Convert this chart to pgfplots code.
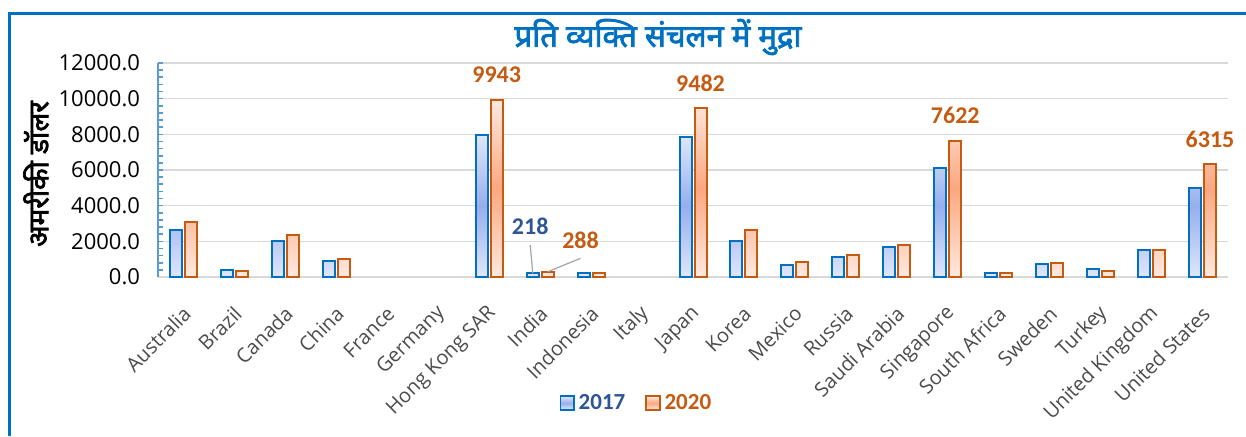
\documentclass[border=0pt]{standalone}
\usepackage{pgfplots}
\pgfplotsset{compat=1.18}
\usepackage{fontspec}
\setmainfont{Open Sans}
\newfontfamily\carlito{Carlito}
\newfontfamily\deva[Script=Devanagari]{Noto Sans}
\newfontfamily\devab[Script=Devanagari, FakeBold=2.5]{Noto Sans}
\definecolor{fblue}{RGB}{0,112,192}
\definecolor{forange}{RGB}{197,90,17}
\definecolor{lblue}{RGB}{47,85,151}
\definecolor{axblue}{RGB}{91,155,213}
\definecolor{gridc}{RGB}{217,217,217}
\definecolor{tickc}{RGB}{75,75,75}
\definecolor{bblight}{RGB}{224,231,250}
\definecolor{bbmid}{RGB}{152,174,236}
\definecolor{oolight}{RGB}{255,233,224}
\definecolor{oomid}{RGB}{250,168,128}
\definecolor{leadc}{RGB}{165,165,165}
\begin{document}
\begin{tikzpicture}[x=0.5pt,y=0.5pt]
\useasboundingbox (0,0) rectangle (1246,436);
\draw[fblue, line width=1.5pt] (9,0) -- (9,423) -- (1246,423);
\node[text=fblue, font=\devab\fontsize{15.5}{17}\selectfont] at (658,399) {प्रति व्यक्ति संचलन में मुद्रा};
\node[rotate=90, font=\devab\fontsize{14}{16}\selectfont] at (36,262) {अमरीकी डॉलर};
\begin{axis}[at={(79pt,79.5pt)}, anchor=south west, scale only axis,
  width=535pt, height=107pt,
  xmin=-0.5, xmax=20.5, ymin=0, ymax=12000,
  ybar=1.5pt, bar width=6pt,
  axis x line*=bottom, axis y line*=left,
  x axis line style={gridc, line width=1.2pt, -},
  y axis line style={axblue, line width=1pt, -},
  xtick={0,...,20},
  xticklabels={Australia,Brazil,Canada,China,France,Germany,Hong Kong SAR,India,Indonesia,Italy,Japan,Korea,Mexico,Russia,Saudi Arabia,Singapore,South Africa,Sweden,Turkey,United Kingdom,United States},
  major x tick style={draw=none},
  ytick={0,2000,...,12000},
  minor y tick num=4,
  tick align=inside,
  y tick style={axblue, line width=0.8pt},
  major tick length=2.5pt, minor tick length=2.5pt,
  ymajorgrids, major grid style={gridc, line width=0.8pt},
  scaled y ticks=false,
  yticklabel style={font=\fontsize{11}{13}\selectfont, text=black, xshift=-5.5pt,
    /pgf/number format/.cd, fixed, fixed zerofill, precision=1, 1000 sep={}, assume math mode=true},
  xticklabel style={rotate=45, anchor=east, font=\fontsize{10}{12}\selectfont, text=tickc, yshift=-13pt, xshift=-7pt},
  legend style={at={(0.448,-0.589)}, anchor=center, draw=none, fill=none,
    legend columns=2, /tikz/every even column/.append style={column sep=8pt},
    font=\carlito\bfseries\fontsize{11.5}{13}\selectfont},
  legend image code/.code={\draw[#1, line width=0.8pt] (0pt,-3.4pt) rectangle (6.8pt,3.4pt);},
  clip=false,
]
\addplot[draw=fblue, line width=1pt, top color=bblight, bottom color=bblight, middle color=bbmid]
 coordinates {(0,2620) (1,390) (2,2040) (3,880) (6,7950) (7,218) (8,210) (10,7840) (11,2000) (12,655) (13,1140) (14,1700) (15,6110) (16,240) (17,730) (18,470) (19,1510) (20,4970)};
\addlegendentry{\textcolor{lblue}{2017}}
\addplot[draw=forange, line width=1pt, top color=oolight, bottom color=oolight, middle color=oomid]
 coordinates {(0,3110) (1,350) (2,2370) (3,1030) (6,9943) (7,288) (8,240) (10,9482) (11,2640) (12,840) (13,1250) (14,1810) (15,7622) (16,205) (17,770) (18,320) (19,1530) (20,6315)};
\addlegendentry{\textcolor{forange}{2020}}
\begin{scope}[font=\carlito\bfseries\fontsize{12}{13}\selectfont]
\node[text=forange, xshift=3.75pt, yshift=12.5pt] at (axis cs:6,9943) {9943};
\node[text=forange, xshift=3.75pt, yshift=12.5pt] at (axis cs:10,9482) {9482};
\node[text=forange, xshift=3.75pt, yshift=13pt] at (axis cs:15,7622) {7622};
\node[text=forange, xshift=3.75pt, yshift=12.5pt] at (axis cs:20,6315) {6315};
\node[text=lblue] at (axis cs:6.805,2821) {218};
\node[text=forange] at (axis cs:7.792,2036) {288};
\end{scope}
\draw[leadc, line width=0.6pt] (axis cs:6.805,1795) -- (axis cs:6.856,208);
\draw[leadc, line width=0.6pt] (axis cs:7.792,1049) -- (axis cs:7.150,297);
\end{axis}
\end{tikzpicture}
\end{document}
